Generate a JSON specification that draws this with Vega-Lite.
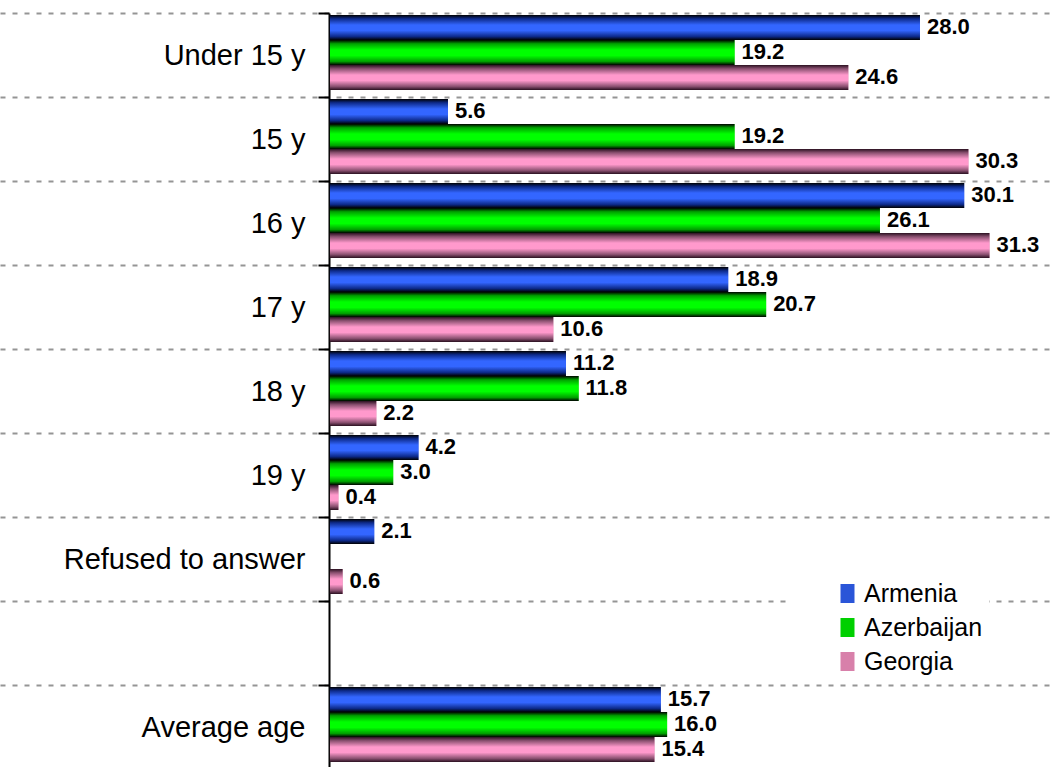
{
  "$schema": "https://vega.github.io/schema/vega-lite/v6.json",
  "width": 1051,
  "height": 756,
  "autosize": {"type": "none"},
  "padding": {"top": 13, "left": 0, "right": 0, "bottom": 0},
  "background": "white",
  "config": {"view": {"stroke": null}},
  "data": {
    "values": [
      {"cat": "Under 15 y", "country": "Armenia", "value": 28.0},
      {"cat": "Under 15 y", "country": "Azerbaijan", "value": 19.2},
      {"cat": "Under 15 y", "country": "Georgia", "value": 24.6},
      {"cat": "15 y", "country": "Armenia", "value": 5.6},
      {"cat": "15 y", "country": "Azerbaijan", "value": 19.2},
      {"cat": "15 y", "country": "Georgia", "value": 30.3},
      {"cat": "16 y", "country": "Armenia", "value": 30.1},
      {"cat": "16 y", "country": "Azerbaijan", "value": 26.1},
      {"cat": "16 y", "country": "Georgia", "value": 31.3},
      {"cat": "17 y", "country": "Armenia", "value": 18.9},
      {"cat": "17 y", "country": "Azerbaijan", "value": 20.7},
      {"cat": "17 y", "country": "Georgia", "value": 10.6},
      {"cat": "18 y", "country": "Armenia", "value": 11.2},
      {"cat": "18 y", "country": "Azerbaijan", "value": 11.8},
      {"cat": "18 y", "country": "Georgia", "value": 2.2},
      {"cat": "19 y", "country": "Armenia", "value": 4.2},
      {"cat": "19 y", "country": "Azerbaijan", "value": 3.0},
      {"cat": "19 y", "country": "Georgia", "value": 0.4},
      {"cat": "Refused to answer", "country": "Armenia", "value": 2.1},
      {"cat": "Refused to answer", "country": "Georgia", "value": 0.6},
      {"cat": "Average age", "country": "Armenia", "value": 15.7},
      {"cat": "Average age", "country": "Azerbaijan", "value": 16.0},
      {"cat": "Average age", "country": "Georgia", "value": 15.4}
    ]
  },
  "encoding": {
    "y": {
      "field": "cat",
      "type": "nominal",
      "sort": null,
      "title": null,
      "scale": {
        "domain": ["Under 15 y", "15 y", "16 y", "17 y", "18 y", "19 y", "Refused to answer", " ", "Average age"],
        "paddingInner": 0,
        "paddingOuter": 0
      },
      "axis": {
        "offset": -329,
        "tickBand": "extent",
        "domainColor": "black",
        "domainWidth": 2,
        "tickColor": "black",
        "tickWidth": 2,
        "tickSize": 11,
        "grid": true,
        "gridColor": "#959595",
        "gridWidth": 2,
        "gridDash": [5, 7],
        "labelFont": "Liberation Sans, Arial",
        "labelFontSize": 29,
        "labelColor": "black",
        "labelPadding": 13,
        "labelLimit": 400
      }
    },
    "yOffset": {
      "field": "country",
      "type": "nominal",
      "scale": {"domain": ["Armenia", "Azerbaijan", "Georgia"], "paddingInner": 0, "paddingOuter": 0.18, "align": 0.22}
    },
    "x": {
      "field": "value",
      "type": "quantitative",
      "axis": null,
      "scale": {"domain": [-15.66, 34.22], "nice": false, "zero": false}
    }
  },
  "layer": [
    {
      "mark": {"type": "bar", "opacity": 1},
      "encoding": {
        "x2": {"datum": 0},
        "color": {
          "field": "country",
          "type": "nominal",
          "scale": {
            "domain": ["Armenia", "Azerbaijan", "Georgia"],
            "range": ["#2a55d8", "#00d000", "#d880aa"]
          },
          "legend": {
            "title": null,
            "orient": "none",
            "legendX": 790,
            "legendY": 562,
            "padding": 6,
            "fillColor": "white",
            "symbolOffset": 39,
            "symbolType": "M-1,-1.36H1V1.36H-1Z",
            "symbolSize": 196,
            "symbolStrokeWidth": 0,
            "symbolOpacity": 1,
            "labelFont": "Liberation Sans, Arial",
            "labelFontSize": 25,
            "labelColor": "black",
            "labelOffset": 4,
            "rowPadding": 8,
            "labelLimit": 300,
            "encode": {
              "symbols": {
                "enter": {
                  "fill": {"signal": "datum.value === 'Armenia' ? {gradient:'linear',x1:0,y1:0,x2:0,y2:1,stops:[{offset:0,color:'#000000'},{offset:0.15,color:'#0d2a8a'},{offset:0.4,color:'#3366ff'},{offset:0.62,color:'#3366ff'},{offset:0.86,color:'#0d2a8a'},{offset:1,color:'#000000'}]} : datum.value === 'Azerbaijan' ? {gradient:'linear',x1:0,y1:0,x2:0,y2:1,stops:[{offset:0,color:'#000000'},{offset:0.15,color:'#00a000'},{offset:0.4,color:'#00ff00'},{offset:0.62,color:'#00ff00'},{offset:0.86,color:'#00a000'},{offset:1,color:'#000000'}]} : {gradient:'linear',x1:0,y1:0,x2:0,y2:1,stops:[{offset:0,color:'#2a1020'},{offset:0.15,color:'#8a5070'},{offset:0.4,color:'#ff99cc'},{offset:0.62,color:'#ff99cc'},{offset:0.86,color:'#8a5070'},{offset:1,color:'#2a1020'}]}"}
                },
                "update": {
                  "fill": {"signal": "datum.value === 'Armenia' ? {gradient:'linear',x1:0,y1:0,x2:0,y2:1,stops:[{offset:0,color:'#000000'},{offset:0.15,color:'#0d2a8a'},{offset:0.4,color:'#3366ff'},{offset:0.62,color:'#3366ff'},{offset:0.86,color:'#0d2a8a'},{offset:1,color:'#000000'}]} : datum.value === 'Azerbaijan' ? {gradient:'linear',x1:0,y1:0,x2:0,y2:1,stops:[{offset:0,color:'#000000'},{offset:0.15,color:'#00a000'},{offset:0.4,color:'#00ff00'},{offset:0.62,color:'#00ff00'},{offset:0.86,color:'#00a000'},{offset:1,color:'#000000'}]} : {gradient:'linear',x1:0,y1:0,x2:0,y2:1,stops:[{offset:0,color:'#2a1020'},{offset:0.15,color:'#8a5070'},{offset:0.4,color:'#ff99cc'},{offset:0.62,color:'#ff99cc'},{offset:0.86,color:'#8a5070'},{offset:1,color:'#2a1020'}]}"}
                }
              }
            }
          }
        }
      }
    },
    {
      "mark": {
        "type": "bar",
        "fill": {"expr": "datum.country === 'Armenia' ? {gradient:'linear',x1:0,y1:0,x2:0,y2:1,stops:[{offset:0,color:'#000000'},{offset:0.15,color:'#0d2a8a'},{offset:0.4,color:'#3366ff'},{offset:0.62,color:'#3366ff'},{offset:0.86,color:'#0d2a8a'},{offset:1,color:'#000000'}]} : datum.country === 'Azerbaijan' ? {gradient:'linear',x1:0,y1:0,x2:0,y2:1,stops:[{offset:0,color:'#000000'},{offset:0.15,color:'#00a000'},{offset:0.4,color:'#00ff00'},{offset:0.62,color:'#00ff00'},{offset:0.86,color:'#00a000'},{offset:1,color:'#000000'}]} : {gradient:'linear',x1:0,y1:0,x2:0,y2:1,stops:[{offset:0,color:'#2a1020'},{offset:0.15,color:'#8a5070'},{offset:0.4,color:'#ff99cc'},{offset:0.62,color:'#ff99cc'},{offset:0.86,color:'#8a5070'},{offset:1,color:'#2a1020'}]}"},
        "opacity": 1
      },
      "encoding": {
        "x2": {"datum": 0}
      }
    },
    {
      "mark": {
        "type": "text",
        "align": "left",
        "baseline": "middle",
        "dx": 7,
        "font": "Liberation Sans, Arial",
        "fontWeight": "bold",
        "fontSize": 22,
        "color": "black"
      },
      "encoding": {
        "text": {"field": "value", "type": "quantitative", "format": ".1f"}
      }
    }
  ]
}
